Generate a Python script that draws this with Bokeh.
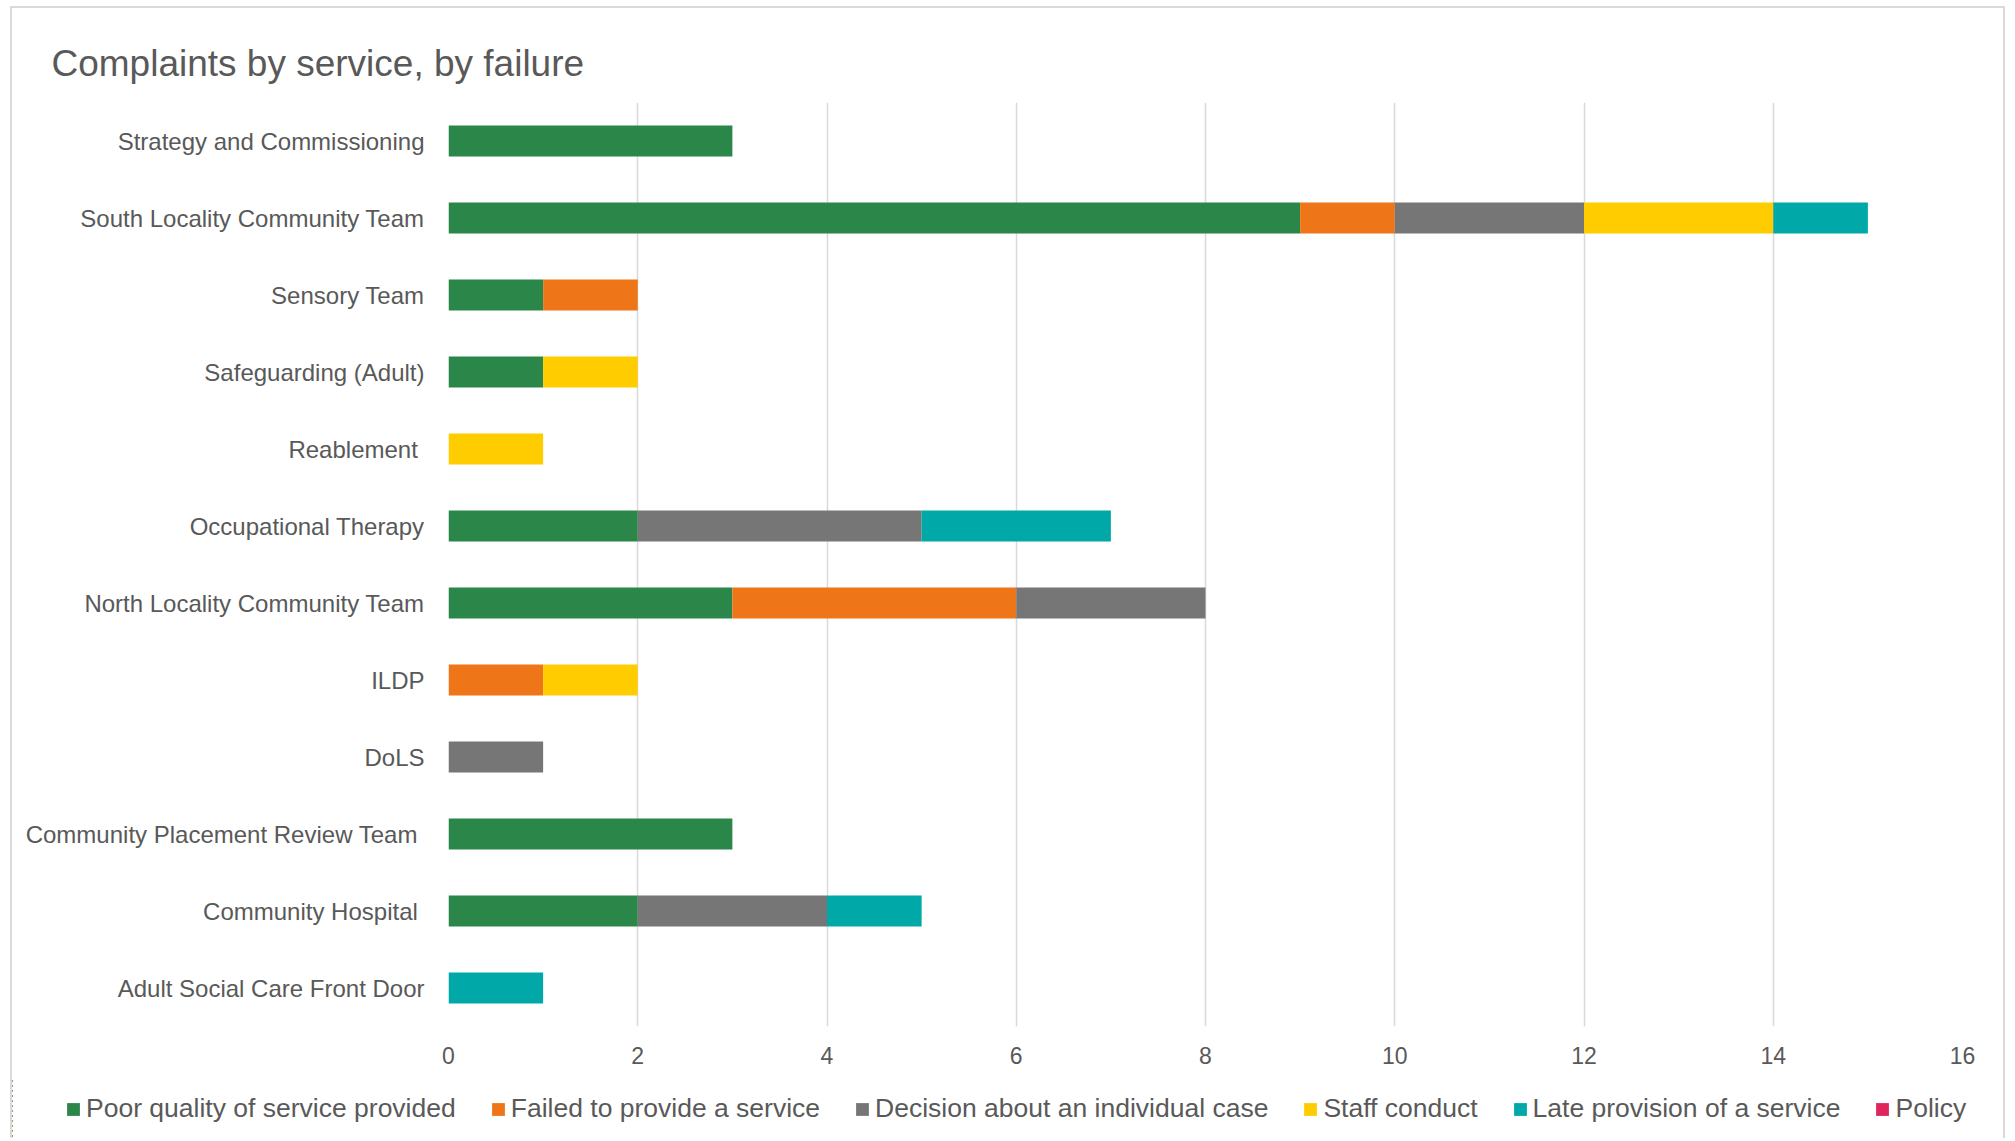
from bokeh.plotting import figure
from bokeh.models import FactorRange, Range1d, Legend, LegendItem, FixedTicker
from bokeh.layouts import column, row
from bokeh.embed import file_html
from bokeh.resources import INLINE

services = [
    "Adult Social Care Front Door",
    "Community Hospital\u00a0",
    "Community Placement Review Team\u00a0",
    "DoLS",
    "ILDP",
    "North Locality Community Team",
    "Occupational Therapy",
    "Reablement\u00a0",
    "Safeguarding (Adult)",
    "Sensory Team",
    "South Locality Community Team",
    "Strategy and Commissioning",
]
failures = [
    "Poor quality of service provided",
    "Failed to provide a service",
    "Decision about an individual case",
    "Staff conduct",
    "Late provision of a service",
    "Policy",
]
poor_quality = [0, 2, 3, 0, 0, 3, 2, 0, 1, 1, 9, 3]
failed_to_provide = [0, 0, 0, 0, 1, 3, 0, 0, 0, 1, 1, 0]
decision = [0, 2, 0, 1, 0, 2, 3, 0, 0, 0, 2, 0]
staff_conduct = [0, 0, 0, 0, 1, 0, 0, 1, 1, 0, 2, 0]
late_provision = [1, 1, 0, 0, 0, 0, 2, 0, 0, 0, 1, 0]
policy = [0, 0, 0, 0, 0, 0, 0, 0, 0, 0, 0, 0]
x_ticks = [0, 2, 4, 6, 8, 10, 12, 14, 16]

colors = ["#2A8749", "#EE7518", "#767676", "#FFCC00", "#00A8A8", "#E0245E"]
TXT = "#595959"
FONT = "Liberation Sans"

data = {"service": services}
keys = ["k0", "k1", "k2", "k3", "k4", "k5"]
for k, vals in zip(keys, [poor_quality, failed_to_provide, decision, staff_conduct, late_provision, policy]):
    data[k] = vals

# main chart
p = figure(
    width=1991, height=1070,
    y_range=FactorRange(factors=services),
    x_range=Range1d(0, 16),
    output_backend="svg", toolbar_location=None,
    min_border_left=436, min_border_right=41, min_border_top=94, min_border_bottom=52,
)
renderers = p.hbar_stack(keys, y="service", height=0.4, color=colors, line_color=None, source=data)

p.title.text = "Complaints by service, by failure"
p.title.text_font = FONT
p.title.text_font_size = "37px"
p.title.text_font_style = "normal"
p.title.text_color = TXT
p.title.align = "left"
p.title.offset = -397
p.title.standoff = 38

p.outline_line_color = None
p.ygrid.grid_line_color = None
p.xgrid.grid_line_color = "#d9d9d9"
p.xgrid.grid_line_width = 1.5
p.xaxis.ticker = FixedTicker(ticks=x_ticks)
p.xaxis.axis_line_color = None
p.xaxis.major_tick_line_color = None
p.xaxis.minor_tick_line_color = None
p.xaxis.major_label_text_font = FONT
p.xaxis.major_label_text_font_size = "23px"
p.xaxis.major_label_text_color = TXT
p.xaxis.major_label_standoff = 14

p.yaxis.axis_line_color = None
p.yaxis.major_tick_line_color = None
p.yaxis.minor_tick_line_color = None
p.yaxis.major_label_text_font = FONT
p.yaxis.major_label_text_font_size = "24px"
p.yaxis.major_label_text_color = TXT
p.yaxis.major_label_standoff = 18

# legend strip below the chart (its own stacked bars fall outside its view)
lf = figure(
    width=1991, height=60,
    y_range=FactorRange(factors=services),
    x_range=Range1d(100, 101),
    x_axis_type=None, y_axis_type=None,
    output_backend="svg", toolbar_location=None,
    min_border=0,
)
lf.outline_line_color = None
lf.grid.grid_line_color = None
leg_renderers = lf.hbar_stack(keys, y="service", height=0.4, color=colors, line_color=None, source=data)

legend = Legend(
    items=[LegendItem(label=f, renderers=[r]) for f, r in zip(failures, leg_renderers)],
    orientation="horizontal",
    location=(53, 14),
    label_text_font=FONT, label_text_font_size="26.5px", label_text_color=TXT,
    glyph_width=16, glyph_height=16, label_standoff=5, spacing=34,
    border_line_color=None, background_fill_alpha=0,
    padding=0, margin=0,
)
lf.add_layout(legend, "center")

layout = column(p, row(lf), spacing=0)
layout.margin = (6, 10, 0, 10)
layout.styles = {"border-top": "2px solid #d9d9d9", "border-left": "2px solid #d9d9d9",
                 "border-right": "2px solid #d9d9d9"}

open("out.html", "w").write(file_html(layout, INLINE))
